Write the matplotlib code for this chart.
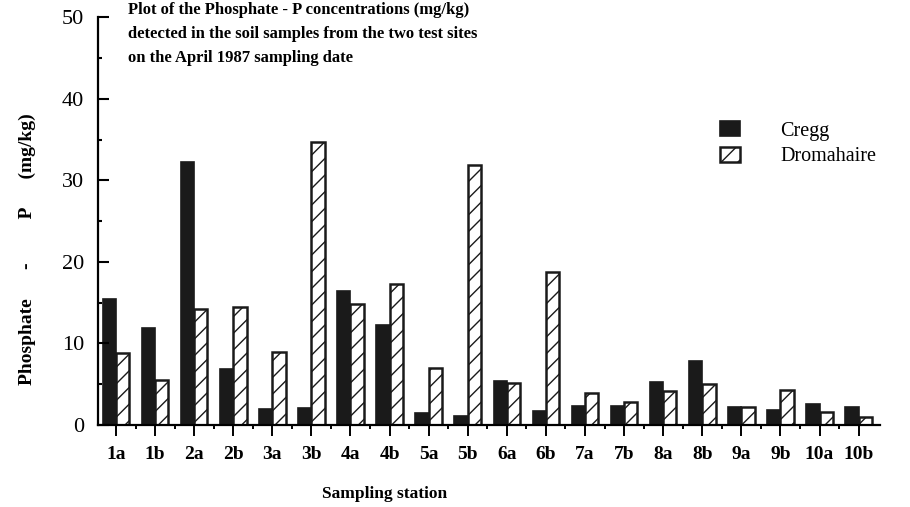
import numpy as np
import matplotlib.pyplot as plt

# Phosphate-P (mg/kg) per sampling station, April 1987
stations = ["1a", "1b", "2a", "2b", "3a", "3b", "4a", "4b", "5a", "5b",
            "6a", "6b", "7a", "7b", "8a", "8b", "9a", "9b", "10a", "10b"]
cregg = [15.5, 11.9, 32.3, 6.9, 2.0, 2.1, 16.4, 12.2, 1.4, 1.1,
         5.4, 1.7, 2.3, 2.3, 5.3, 7.8, 2.2, 1.8, 2.5, 2.2]
dromahaire = [8.8, 5.5, 14.2, 14.5, 8.9, 34.7, 14.8, 17.3, 7.0, 31.9,
              5.1, 18.7, 3.9, 2.8, 4.1, 5.0, 2.2, 4.3, 1.6, 1.0]
y_ticks = [0, 10, 20, 30, 40, 50]
title_lines = ["Plot of the Phosphate - P concentrations (mg/kg)",
               "detected in the soil samples from the two test sites",
               "on the April 1987 sampling date"]

serif = ["Liberation Serif", "DejaVu Serif"]
plt.rcParams["font.family"] = serif
plt.rcParams["hatch.linewidth"] = 1.0

fig = plt.figure(figsize=(9.1, 5.07), dpi=100)
ax = fig.add_axes([0.1077, 0.162, 0.859, 0.804])

x = np.arange(len(stations))
w = 0.34
ax.bar(x - w / 2, cregg, w, color="#1a1a1a", edgecolor="#1a1a1a",
       linewidth=1.2, label="Cregg")
ax.bar(x + w / 2, dromahaire, w, color="white", edgecolor="#1a1a1a",
       linewidth=1.8, hatch="//", label="Dromahaire")

ax.set_xlim(-0.46, 19.54)
ax.set_ylim(0, 50)

ax.spines["top"].set_visible(False)
ax.spines["right"].set_visible(False)
ax.spines["left"].set_linewidth(1.6)
ax.spines["bottom"].set_linewidth(1.6)

ax.set_yticks(y_ticks)
ax.set_yticks(np.arange(5, 50, 10), minor=True)
ax.tick_params(axis="y", which="major", direction="in", length=8, width=1.5,
               pad=10, labelsize=16)
ax.tick_params(axis="y", which="minor", direction="in", length=3, width=1.5)

ax.set_xticks(x)
ax.set_xticks(x[:-1] + 0.5, minor=True)
ax.set_xticklabels(stations, fontweight="bold")
ax.tick_params(axis="x", which="major", direction="out", length=8, width=1.4,
               pad=7, labelsize=14)
ax.tick_params(axis="x", which="minor", direction="out", length=3, width=1.4)

ax.set_xlabel("Sampling station", fontsize=12.5, fontweight="bold")
ax.xaxis.set_label_coords(0.367, -0.15)
ax.set_ylabel("Phosphate      -         P      (mg/kg)", fontsize=14,
              fontweight="bold")
ax.yaxis.set_label_coords(-0.079, 0.43)

# title block sits inside the plot area, one text per line
for i, line in enumerate(title_lines):
    fig.text(0.141, 1 - (10 + 24 * i) / 507, line, fontsize=12,
             fontweight="bold", va="center", ha="left")

ax.legend(loc="upper left", bbox_to_anchor=(0.772, 0.79), frameon=False,
          fontsize=14.5, handlelength=1.0, handleheight=0.8,
          handletextpad=2.0, labelspacing=0.3)

fig.savefig("out.png", dpi=100)
